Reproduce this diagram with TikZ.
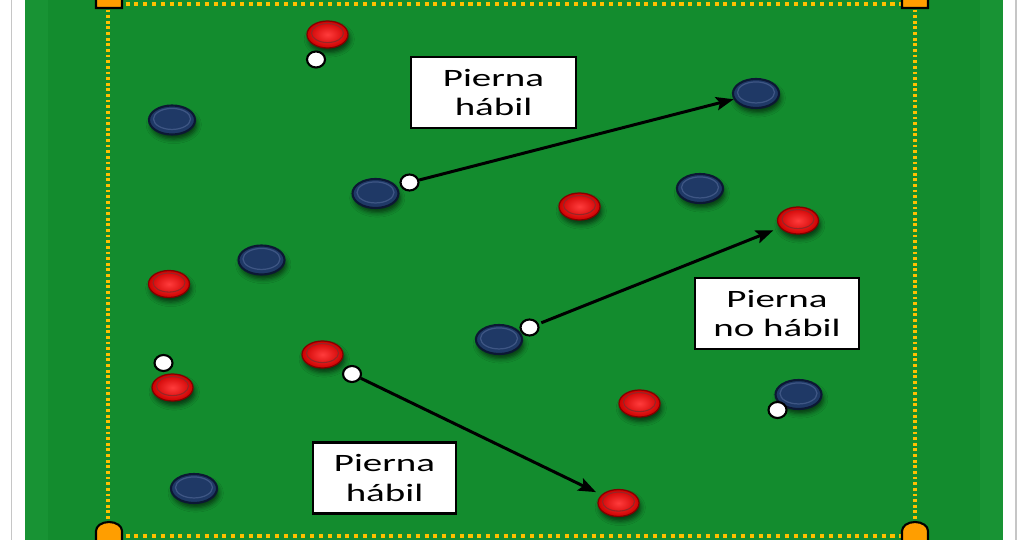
\documentclass[tikz,border=0pt]{standalone}
\usepackage{fontspec}
\setmainfont{Carlito}
\usepackage{graphicx}
\usetikzlibrary{arrows.meta,shapes.geometric,shadows.blur}

\definecolor{pitch}{RGB}{19,140,46}
\definecolor{pitchlight}{RGB}{24,147,52}
\definecolor{lineyellow}{RGB}{255,192,0}
\definecolor{coneorange}{RGB}{255,158,0}
\definecolor{navy}{RGB}{31,57,102}
\definecolor{navydark}{RGB}{12,24,52}
\definecolor{navyring}{RGB}{62,86,132}
\definecolor{chipred}{RGB}{205,0,0}
\definecolor{chiphigh}{RGB}{255,60,60}
\definecolor{chipdark}{RGB}{130,0,0}
\newcommand{\widetxt}[1]{\scalebox{1.56}[1]{#1}}

\begin{document}
\begin{tikzpicture}[
    x=0.01cm, y=-0.01cm,
    chipshadow/.style={blur shadow={shadow xshift=0.5pt, shadow yshift=-1.3pt, shadow blur radius=1.3pt, shadow opacity=60}},
    reddisc/.style={ellipse, chipshadow, draw=chipdark, line width=0.35pt, minimum width=0.41cm, minimum height=0.27cm, inner sep=0pt,
        inner color=chiphigh, outer color=chipred,
        path picture={\draw[chipdark!85, line width=0.3pt] ([yshift=0.4pt]path picture bounding box.center) ellipse (0.16cm and 0.095cm);}},
    bluedisc/.style={ellipse, chipshadow, draw=navydark, line width=0.6pt, fill=navy, minimum width=0.46cm, minimum height=0.29cm, inner sep=0pt,
        path picture={\draw[navyring, line width=0.35pt] ([yshift=0.3pt]path picture bounding box.center) ellipse (0.185cm and 0.105cm);}},
    ball/.style={ellipse, draw=black, line width=0.6pt, fill=white, minimum width=0.18cm, minimum height=0.16cm, inner sep=0pt},
    labelbox/.style={draw=black, line width=0.65pt, fill=white, minimum height=0.71cm, inner sep=0pt, align=center,
        font=\fontsize{7.1}{8.5}\selectfont},
    dotline/.style={draw=lineyellow, line width=1pt},
    cone/.style={draw=black, line width=0.6pt, fill=coneorange},
    pass/.style={draw=black, line width=0.85pt, -{Stealth[length=5pt, width=3.8pt, inset=1pt]}}
]
\useasboundingbox (0,0) rectangle (1028,540);
\clip (0,0) rectangle (1028,540);

\fill[white] (0,0) rectangle (1028,540);
\draw[gray!45, line width=0.55pt] (11.5,0) -- (11.5,540) (1016,0) -- (1016,540);
\fill[pitch] (25,0) rectangle (1003,540);
\fill[pitchlight] (25,0) rectangle (48,540);
\fill[pitchlight] (980,0) rectangle (1003,540);

\draw[dotline, dash pattern=on 1.15pt off 1.35pt] (108,4) -- (915,4) (108,536) -- (915,536);
\draw[dotline, dash pattern=on 0.8pt off 0.8pt] (108,4) -- (108,536) (915,4) -- (915,536);

\foreach \cx/\cy in {109/8, 915/8, 109/548, 915/548}
    \draw[cone] (\cx-13,\cy) -- (\cx-13,\cy-17)
        arc[start angle=180, end angle=0, x radius=0.13cm, y radius=0.09cm] -- (\cx+13,\cy) -- cycle;

\node[labelbox, minimum width=1.65cm] (lbl1) at (493.5,92.5) {\widetxt{Pierna}\\\widetxt{hábil}};
\node[labelbox, minimum width=1.64cm] (lbl2) at (777,313.5) {\widetxt{Pierna}\\\widetxt{no hábil}};
\node[labelbox, minimum width=1.43cm] (lbl3) at (384.5,478) {\widetxt{Pierna}\\\widetxt{hábil}};

\foreach \n/\px/\py in {red1/327.5/34.5, red2/579.5/206.5, red3/798/220.5, red4/169/284,
                        red5/322.5/354.5, red6/172.5/387.5, red7/639.5/403.5, red8/618.5/503}
    \node[reddisc] (\n) at (\px,\py) {};
\foreach \n/\px/\py in {blue1/172/120, blue2/756/93.5, blue3/375.5/193.5, blue4/700/188.5,
                        blue5/261.5/260, blue6/499/339.5, blue7/798.5/394.5, blue8/194/488.5}
    \node[bluedisc] (\n) at (\px,\py) {};
\foreach \n/\px/\py in {ball1/316/59.5, ball2/409.5/182.5, ball3/529.5/327.5,
                        ball4/163.5/363, ball5/352/374, ball6/777.5/410}
    \node[ball] (\n) at (\px,\py) {};

\draw[pass] (ball2) -- (blue2);
\draw[pass, shorten <=0.8pt, shorten >=2pt] (ball3) -- (red3);
\draw[pass, shorten >=1.7pt] (ball5) -- (red8);
\end{tikzpicture}
\end{document}
